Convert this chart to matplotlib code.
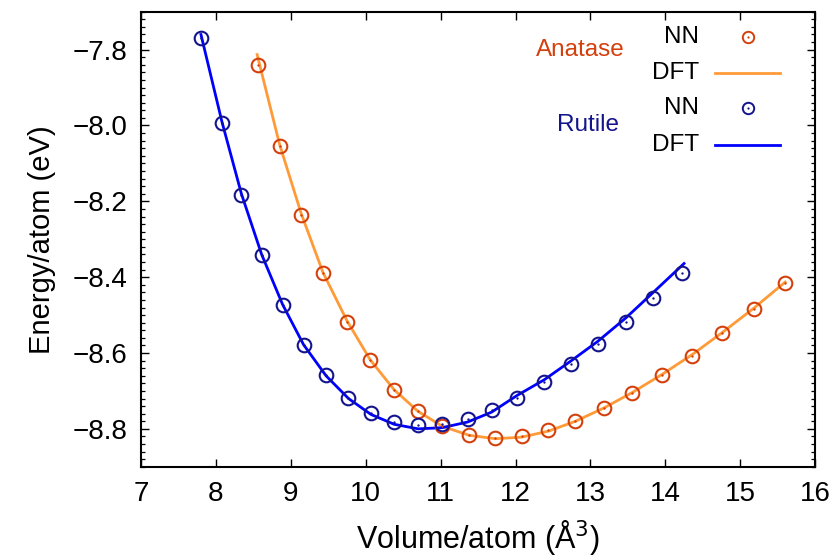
import matplotlib
matplotlib.use("Agg")
import matplotlib.pyplot as plt
from matplotlib.ticker import MultipleLocator

plt.rcParams['font.family'] = ['Liberation Sans', 'DejaVu Sans']

# Rutile
rut_nn_x = [7.80, 8.08, 8.34, 8.61, 8.89, 9.17, 9.47, 9.77, 10.07, 10.38, 10.70,
            11.02, 11.36, 11.68, 12.02, 12.38, 12.74, 13.10, 13.47, 13.84, 14.22]
rut_nn_y = [-7.768, -7.993, -8.184, -8.342, -8.474, -8.579, -8.658, -8.718, -8.758, -8.781, -8.791,
            -8.786, -8.773, -8.749, -8.718, -8.677, -8.629, -8.577, -8.519, -8.455, -8.388]
rut_dft_x = [7.80, 8.08, 8.34, 8.61, 8.89, 9.17, 9.47, 9.77, 10.07, 10.38, 10.70,
             11.02, 11.36, 11.68, 12.02, 12.38, 12.74, 13.10, 13.47, 13.84, 14.25]
rut_dft_y = [-7.760, -7.990, -8.180, -8.340, -8.472, -8.578, -8.660, -8.720, -8.762, -8.788, -8.800,
             -8.797, -8.782, -8.756, -8.712, -8.671, -8.621, -8.569, -8.508, -8.440, -8.364]

# Anatase
ana_nn_x = [8.56, 8.85, 9.14, 9.43, 9.75, 10.06, 10.38, 10.70, 11.02, 11.38, 11.73,
            12.08, 12.44, 12.80, 13.18, 13.56, 13.96, 14.36, 14.76, 15.18, 15.60]
ana_nn_y = [-7.841, -8.053, -8.236, -8.390, -8.517, -8.619, -8.697, -8.754, -8.792, -8.815, -8.824,
            -8.818, -8.804, -8.778, -8.746, -8.706, -8.659, -8.608, -8.548, -8.484, -8.415]
ana_dft_x = [8.55, 8.85, 9.14, 9.43, 9.75, 10.06, 10.38, 10.70, 11.02, 11.38, 11.73,
             12.08, 12.44, 12.80, 13.18, 13.56, 13.96, 14.36, 14.76, 15.18, 15.60]
ana_dft_y = [-7.813, -8.050, -8.233, -8.388, -8.515, -8.618, -8.697, -8.754, -8.793, -8.817, -8.826,
             -8.822, -8.806, -8.780, -8.745, -8.704, -8.656, -8.604, -8.546, -8.482, -8.413]

x_ticks = [7, 8, 9, 10, 11, 12, 13, 14, 15, 16]
y_ticks = [-8.8, -8.6, -8.4, -8.2, -8.0, -7.8]

c_ana_nn = '#d4400c'
c_ana_dft = '#ff9a38'
c_rut_nn = '#14148c'
c_rut_dft = '#0000ff'

fig = plt.figure(figsize=(8.36, 5.59), dpi=100)
ax = fig.add_axes([0.1687, 0.165, 0.975 - 0.1687, 0.979 - 0.165])

ax.plot(ana_dft_x, ana_dft_y, '-', color=c_ana_dft, lw=2.0, zorder=2)
ax.plot(rut_dft_x, rut_dft_y, '-', color=c_rut_dft, lw=2.0, zorder=2)

ms = 9.8
ax.plot(ana_nn_x, ana_nn_y, 'o', mfc='none', mec=c_ana_nn, ms=ms, mew=1.5, zorder=3)
ax.plot(ana_nn_x, ana_nn_y, 'o', color=c_ana_nn, ms=1.7, mew=0, zorder=4)
ax.plot(rut_nn_x, rut_nn_y, 'o', mfc='none', mec=c_rut_nn, ms=ms, mew=1.5, zorder=3)
ax.plot(rut_nn_x, rut_nn_y, 'o', color=c_rut_nn, ms=1.7, mew=0, zorder=4)

ax.set_xlim(7, 16)
ax.set_ylim(-8.9, -7.7)
ax.set_xticks(x_ticks)
ax.set_xticklabels([str(v) for v in x_ticks])
ax.set_yticks(y_ticks)
ax.set_yticklabels(['\u2212%.1f' % abs(v) for v in y_ticks])
ax.yaxis.set_minor_locator(MultipleLocator(0.02))

ax.tick_params(axis='both', which='major', direction='in', length=6, width=1.0,
               top=True, right=True, labelsize=20, pad=10)
ax.tick_params(axis='y', which='minor', direction='in', length=3, width=0.9,
               left=True, right=True)
for s in ax.spines.values():
    s.set_linewidth(1.5)

ax.set_xlabel('Volume/atom (Å$^3$)', fontsize=22, labelpad=8)
ax.set_ylabel('Energy/atom (eV)', fontsize=21, labelpad=12)

# Legend (manual, in axes fraction)
def fx(px):
    return (px - 141) / (815 - 141)

def fy(py):
    return (466.7 - py) / (466.7 - 11.7)

tk = dict(transform=ax.transAxes, fontsize=17.5, va='center')
ax.text(fx(580), fy(50), 'Anatase', color=c_ana_nn, ha='center', **tk)
ax.text(fx(588), fy(125), 'Rutile', color=c_rut_nn, ha='center', **tk)
ax.text(fx(699), fy(37), 'NN', color='black', ha='right', **tk)
ax.text(fx(699), fy(73), 'DFT', color='black', ha='right', **tk)
ax.text(fx(699), fy(108), 'NN', color='black', ha='right', **tk)
ax.text(fx(699), fy(145), 'DFT', color='black', ha='right', **tk)

ax.plot([fx(747.7)], [fy(37)], 'o', mfc='none', mec=c_ana_nn, ms=8.2, mew=1.4,
        transform=ax.transAxes, clip_on=False)
ax.plot([fx(747.7)], [fy(37)], 'o', color=c_ana_nn, ms=1.6, mew=0,
        transform=ax.transAxes, clip_on=False)
ax.plot([fx(715), fx(780)], [fy(73), fy(73)], '-', color=c_ana_dft, lw=2.0,
        transform=ax.transAxes)
ax.plot([fx(747.7)], [fy(108)], 'o', mfc='none', mec=c_rut_nn, ms=8.2, mew=1.4,
        transform=ax.transAxes, clip_on=False)
ax.plot([fx(747.7)], [fy(108)], 'o', color=c_rut_nn, ms=1.6, mew=0,
        transform=ax.transAxes, clip_on=False)
ax.plot([fx(715), fx(780)], [fy(145), fy(145)], '-', color=c_rut_dft, lw=2.0,
        transform=ax.transAxes)

fig.savefig('out.png', dpi=100)
